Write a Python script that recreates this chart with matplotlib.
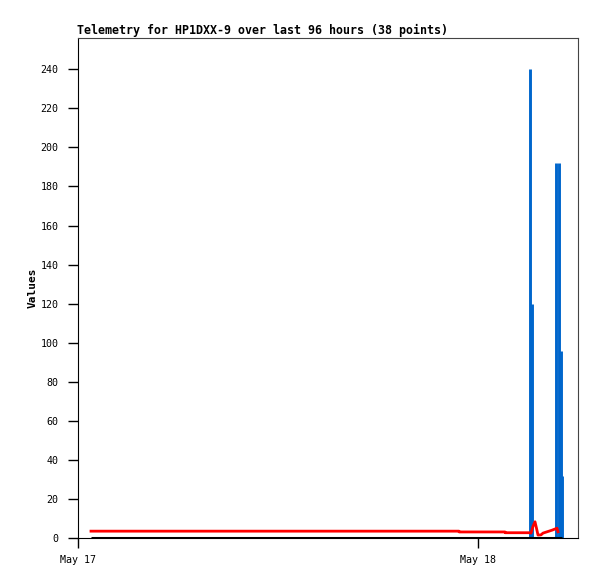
import matplotlib
matplotlib.use("Agg")
import matplotlib.pyplot as plt

# hours since May 17 00:00
red_t = [0.78, 22.86, 22.87, 25.62, 25.63, 27.06, 27.18, 27.30, 27.42, 27.51,
         27.60, 27.78, 27.90, 28.08, 28.26, 28.44, 28.62, 28.74, 28.80]
red_v = [3.5, 3.5, 3.1, 3.1, 2.7, 2.7, 2.5, 6.0, 8.3, 5.0,
         1.5, 1.6, 2.5, 3.0, 3.5, 4.0, 4.6, 5.0, 3.2]

black_t = [0.78, 29.04]
black_v = [0, 0]

blue_t = [27.12, 27.21, 28.68, 28.86, 28.95, 29.04]
blue_v = [240, 120, 192, 192, 96, 32]

xticks = [0, 24]
xlabels = ["May 17", "May 18"]
yticks = list(range(0, 241, 20))

plt.rcParams['font.family'] = ['DejaVu Sans Mono']

fig = plt.figure(figsize=(5.97, 5.79), dpi=100)
ax = fig.add_axes([78/597, 41/579, 500/597, 500/579])

ax.vlines(blue_t, 0, blue_v, color="#0066cc", linewidth=2.1)
ax.plot(black_t, black_v, color="#000000", linewidth=2.2, solid_capstyle="butt")
ax.plot(red_t, red_v, color="#ff0000", linewidth=2.0)

ax.set_xlim(0, 30)
ax.set_ylim(0, 256)
ax.set_xticks(xticks)
ax.set_xticklabels(xlabels)
ax.set_yticks(yticks)
ax.tick_params(axis="both", direction="out", length=7, width=1, labelsize=7.2)
ax.tick_params(axis="y", pad=7)
ax.tick_params(axis="x", pad=5)

for s in ["top", "right"]:
    ax.spines[s].set_color("#444444")
for s in ["left", "bottom"]:
    ax.spines[s].set_color("#000000")

ax.set_ylabel("Values", fontsize=8, fontweight="bold", labelpad=2)
ax.set_title("Telemetry for HP1DXX-9 over last 96 hours (38 points)",
             loc="left", fontsize=8.4, fontweight="bold", pad=3, x=-0.002)

fig.savefig("out.png", dpi=100)
